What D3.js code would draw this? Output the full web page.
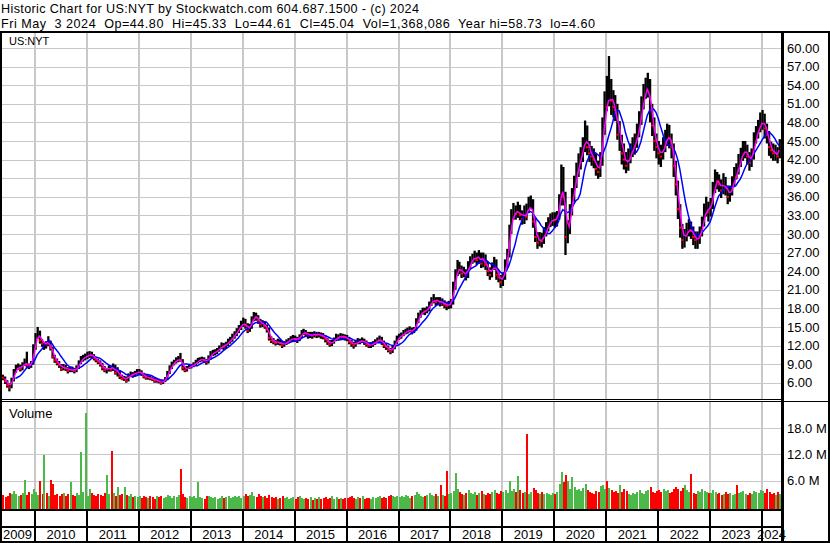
<!DOCTYPE html>
<html><head><meta charset="utf-8">
<script src="https://cdn.jsdelivr.net/npm/d3@7"></script>
<style>
body{margin:0;background:#fff;}
svg{display:block;font-family:Arial,"Liberation Sans",sans-serif;}
</style>
</head><body><svg id="c" width="830" height="543"></svg>
<script>
const headerLine1 = "Historic Chart for US:NYT by Stockwatch.com 604.687.1500 - (c) 2024";
const headerLine2 = "Fri May  3 2024  Op=44.80  Hi=45.33  Lo=44.61  Cl=45.04  Vol=1,368,086  Year hi=58.73  lo=4.60";
const symbolLabel = "US:NYT";
const volumeLabel = "Volume";
const years = [2009,2010,2011,2012,2013,2014,2015,2016,2017,2018,2019,2020,2021,2022,2023,2024];
const priceTicks = [6,9,12,15,18,21,24,27,30,33,36,39,42,45,48,51,54,57,60];
const volumeTicks = [6,12,18];

// semi-monthly bars (1st and 16th of each month), May 2009 .. May 2024
const close = [
 7.0,6.8,6.2,5.6,5.2,6.4,7.8,8.4,8.6,8.2,8.9,9.4,8.8,8.6,9.0,11.5,
 13.5,14.2,12.8,12.3,12.5,12.2,12.6,11.6,10.2,9.6,9.2,8.8,8.2,8.6,8.3,7.9,8.2,8.1,7.9,8.4,9.2,9.8,10.0,10.2,
 10.4,10.6,10.4,10.0,9.7,9.4,9.0,8.4,8.0,8.3,8.5,8.1,8.6,7.6,7.8,7.0,6.6,6.9,6.3,7.2,7.4,7.2,7.6,7.8,
 7.8,7.4,7.0,6.8,6.9,6.7,6.6,6.3,6.4,6.2,5.9,6.2,6.6,7.6,8.4,9.0,9.3,9.7,9.8,9.6,8.4,8.0,8.4,8.6,
 8.7,8.9,9.3,9.6,9.7,9.8,9.6,9.3,10.0,10.7,10.8,10.9,11.2,11.6,12.0,11.8,12.2,12.6,12.9,13.4,13.8,14.3,14.8,15.4,
 15.8,15.2,14.4,15.0,16.2,16.8,16.6,16.0,15.4,15.6,15.1,14.6,13.2,12.8,12.6,12.4,12.7,12.4,12.0,12.3,12.6,12.8,13.1,13.2,
 13.0,12.9,13.4,14.0,14.2,13.9,13.6,13.8,13.6,13.9,13.7,13.8,13.6,13.5,13.0,12.6,12.2,12.5,12.9,13.4,13.2,13.6,13.4,13.3,
 13.2,12.6,12.3,12.0,12.4,12.7,12.6,12.9,12.5,12.2,12.0,12.1,12.3,12.6,12.9,13.1,12.5,12.0,11.8,11.3,11.0,11.6,12.4,13.2,
 13.4,13.6,14.0,14.2,14.4,14.6,14.3,14.6,15.8,16.8,17.2,17.6,17.5,17.8,18.6,19.2,19.5,19.0,19.4,18.8,19.0,18.6,18.4,18.6,
 18.8,21.5,23.5,24.8,24.2,23.6,23.8,23.2,24.8,25.6,26.0,26.4,25.8,26.6,25.2,26.2,25.0,24.0,23.4,24.6,25.4,23.4,23.0,22.2,
 23.0,25.0,26.6,30.5,32.8,33.6,33.2,34.0,33.0,32.4,33.6,32.8,34.8,35.0,32.0,29.5,28.6,29.2,28.8,30.0,30.8,31.6,32.2,32.4,
 32.2,32.5,35.0,39.5,36.0,29.5,30.5,33.5,36.0,38.0,40.0,41.5,42.5,44.0,46.5,44.0,43.0,42.5,42.0,40.5,40.0,41.5,47.0,51.0,
 50.5,53.0,51.5,50.5,50.0,46.0,46.5,43.0,42.0,41.0,42.0,43.0,44.0,44.5,46.0,48.0,50.5,52.5,53.5,54.0,50.0,47.5,45.0,44.0,
 43.0,42.5,44.0,45.0,46.0,45.5,44.0,41.0,38.0,34.0,31.0,29.0,29.5,30.5,31.0,30.5,29.5,29.0,29.0,30.0,31.5,33.5,34.5,33.5,
 34.5,37.0,39.0,38.5,38.0,37.0,38.5,37.5,36.0,36.5,38.0,39.5,39.2,41.5,42.5,43.5,43.5,42.5,41.5,42.5,45.0,46.0,47.0,48.0,
 48.5,47.0,46.0,44.0,43.5,43.0,43.0,42.5,45.0
];
const high = [
 7.6,7.3,7.0,6.4,5.9,6.8,8.2,8.9,9.1,8.9,9.3,9.9,11.0,9.1,9.5,12.2,
 14.0,15.0,14.4,13.0,12.6,12.7,13.5,12.8,11.8,10.5,9.9,9.5,9.0,9.0,8.9,8.5,8.6,8.6,8.4,8.8,9.6,10.3,10.5,10.7,
 11.0,11.1,11.0,10.6,10.2,9.9,9.6,9.2,8.7,8.4,8.8,8.8,9.1,8.9,8.5,8.0,7.3,7.1,7.0,7.5,7.8,7.7,7.9,8.2,
 8.2,8.0,7.6,7.2,7.2,7.1,6.9,6.8,6.7,6.6,6.4,6.5,6.9,7.9,8.8,9.4,9.7,10.1,10.3,10.8,9.8,8.6,8.7,8.9,
 9.0,9.3,9.7,10.0,10.1,10.2,10.1,9.8,10.4,11.1,11.3,11.4,11.6,12.0,12.5,12.4,12.6,13.1,13.4,13.9,14.3,14.8,15.3,16.0,
 16.5,16.3,15.6,15.5,16.7,17.4,17.3,16.9,16.3,16.1,15.9,15.4,14.9,13.5,13.2,12.9,13.1,13.0,12.7,12.7,13.0,13.2,13.5,13.7,
 13.6,13.4,13.8,14.5,14.7,14.5,14.2,14.2,14.2,14.3,14.2,14.2,14.1,14.0,13.7,13.2,12.9,12.9,13.3,13.9,13.8,14.0,13.9,13.8,
 13.7,13.4,12.9,12.6,12.8,13.2,13.1,13.3,13.1,12.8,12.5,12.5,12.7,13.0,13.3,13.6,13.4,12.8,12.4,12.0,11.6,12.0,12.8,13.6,
 13.9,14.1,14.5,14.7,14.9,15.1,14.9,15.0,16.4,17.3,17.7,18.1,18.1,18.3,19.1,19.8,20.3,19.8,19.8,19.8,19.6,19.3,19.0,19.2,
 19.5,22.3,24.3,25.8,25.5,24.9,24.7,24.3,25.6,26.4,26.8,27.3,27.0,27.4,27.0,27.0,26.7,25.5,24.6,25.4,26.3,25.9,24.2,23.4,
 23.8,25.9,27.6,31.5,34.0,35.0,34.6,35.2,34.7,33.8,34.6,34.9,36.0,36.2,35.6,32.6,30.3,30.3,30.2,31.1,31.9,32.7,33.3,33.5,
 33.5,33.7,36.4,41.2,40.8,36.8,32.2,34.8,37.4,39.4,41.5,43.0,44.0,45.6,48.3,47.5,45.0,44.2,43.8,43.0,41.8,43.2,48.8,53.0,
 55.5,58.7,55.0,53.2,52.4,51.0,48.2,46.0,44.6,43.2,43.8,44.6,45.6,46.2,47.8,49.8,52.2,54.2,55.2,56.0,55.0,51.0,48.8,46.2,
 45.0,44.4,45.6,46.8,47.8,47.6,46.2,44.6,41.8,38.6,34.8,31.6,30.8,31.8,32.4,32.0,31.2,30.4,30.4,31.2,32.8,34.9,36.0,35.2,
 35.8,38.4,40.4,40.0,39.6,38.8,39.8,39.2,37.8,37.8,39.3,40.8,41.4,42.9,43.9,45.0,45.0,44.4,43.2,43.8,46.4,47.4,48.4,49.6,
 50.0,49.4,47.8,46.6,44.9,44.6,44.4,44.0,45.3
];
const low = [
 6.6,6.4,5.8,5.2,4.6,5.1,6.2,7.6,8.1,7.8,8.0,8.7,8.4,8.2,8.4,8.9,
 11.3,13.1,12.3,11.8,11.3,11.5,11.9,11.2,9.9,9.2,8.8,8.4,7.9,8.0,7.9,7.5,7.7,7.7,7.5,7.7,8.2,9.0,9.4,9.6,
 9.8,10.0,9.9,9.6,9.3,9.0,8.6,8.0,7.7,7.5,7.8,7.8,7.9,7.3,7.0,6.6,6.4,6.3,6.0,6.2,6.9,6.8,7.0,7.3,
 7.3,7.1,6.7,6.5,6.5,6.4,6.3,6.0,6.0,5.9,5.7,5.8,6.1,6.4,7.4,8.2,8.8,9.1,9.3,9.4,8.0,7.7,7.8,8.2,
 8.3,8.5,8.7,9.1,9.3,9.4,9.2,8.9,9.1,9.7,10.3,10.4,10.6,11.0,11.4,11.3,11.5,11.9,12.3,12.6,13.1,13.5,14.0,14.5,
 15.0,14.7,14.0,14.2,14.7,15.9,16.0,15.5,14.9,15.0,14.7,14.1,12.8,12.4,12.2,12.0,12.1,12.0,11.6,11.8,12.1,12.3,12.6,12.7,
 12.6,12.4,12.7,13.2,13.7,13.4,13.1,13.2,13.1,13.3,13.2,13.3,13.1,13.0,12.5,12.1,11.8,11.9,12.3,12.7,12.8,13.0,12.9,12.8,
 12.7,12.2,11.8,11.5,11.8,12.2,12.2,12.4,12.1,11.8,11.6,11.6,11.8,12.1,12.4,12.6,12.1,11.6,11.3,10.9,10.6,10.8,11.4,12.2,
 12.9,13.1,13.5,13.8,13.9,14.1,13.8,14.0,14.4,15.6,16.5,17.0,16.9,17.2,17.5,18.4,18.8,18.4,18.5,18.3,18.4,18.0,17.7,17.9,
 18.0,18.6,21.0,23.2,23.5,22.9,23.0,22.5,22.9,24.4,25.2,25.4,25.0,25.2,24.5,24.6,24.2,23.2,22.6,23.0,24.2,22.6,22.2,21.3,
 21.6,22.6,24.6,26.2,30.0,32.3,32.3,32.6,32.2,31.5,31.6,32.2,33.4,34.0,31.0,28.7,27.6,28.0,27.8,28.4,29.6,30.4,31.1,31.3,
 31.0,31.2,32.3,34.6,34.6,26.6,28.5,30.0,33.0,35.2,37.4,39.2,40.4,41.6,43.2,42.7,41.6,41.0,40.6,39.4,38.9,39.2,41.0,46.0,
 49.8,50.6,49.2,48.8,48.2,45.2,43.4,41.2,40.4,39.8,40.2,41.4,42.4,42.8,43.9,45.6,47.6,50.1,51.8,52.0,48.0,45.8,43.4,42.2,
 41.2,40.8,42.0,43.2,44.2,43.8,42.2,39.2,36.2,32.4,29.4,27.6,27.8,28.8,29.6,29.2,28.2,27.6,27.6,28.4,29.6,31.2,32.8,32.0,
 32.8,34.0,36.6,37.2,36.8,35.8,36.4,36.2,34.8,35.2,36.2,37.6,38.8,39.6,40.8,41.8,42.2,41.2,40.2,40.8,42.0,44.6,45.4,46.4,
 46.8,45.4,44.6,42.6,42.2,41.8,41.8,41.4,42.2
];
// volume in millions
const volume = [
 2.4,2.8,2.2,2.6,3.2,2.9,3.7,3.0,2.5,2.8,3.1,6.2,2.7,3.4,2.9,4.2,
 3.4,2.8,6.0,3.0,11.8,3.2,2.6,6.2,5.2,2.8,3.0,2.4,2.9,3.3,2.6,3.0,5.8,2.7,2.4,3.1,2.8,12.6,3.4,21.5,
 2.6,4.0,3.2,2.8,2.5,3.0,2.7,2.4,3.1,7.2,2.9,12.8,3.3,2.6,4.6,2.8,3.0,4.6,2.7,2.4,2.9,2.2,2.6,2.3,
 2.4,2.1,2.6,2.2,2.0,2.5,2.3,1.9,2.4,2.2,2.6,2.0,2.3,2.8,2.4,2.1,2.5,2.2,2.7,8.6,2.9,2.3,2.1,2.4,
 2.2,2.5,2.0,5.6,2.3,2.1,1.9,2.4,2.6,2.2,2.0,2.3,1.8,2.1,2.4,2.0,2.2,2.5,2.1,2.3,2.6,2.2,2.4,2.1,
 2.6,3.0,2.4,2.8,3.4,2.6,2.3,2.9,2.5,2.2,2.4,2.1,2.7,2.3,2.0,2.2,1.9,2.1,2.4,2.0,2.2,1.8,2.1,2.3,
 1.9,2.2,2.4,2.0,1.8,2.1,1.9,2.3,1.7,2.0,1.8,2.2,1.9,2.1,2.3,1.8,2.0,2.4,1.9,2.2,1.8,2.0,1.9,2.1,
 2.0,2.3,2.5,2.1,1.9,2.2,2.0,2.4,1.8,2.1,2.0,1.9,2.3,2.1,2.2,2.4,2.0,2.3,2.1,2.6,2.8,2.4,2.2,2.5,
 2.3,2.6,2.2,2.8,2.4,2.1,2.5,2.7,3.4,2.9,2.6,2.3,2.5,2.8,3.2,2.7,2.4,2.9,2.6,5.0,2.8,2.5,8.1,3.0,
 3.2,3.6,7.8,4.0,3.4,3.0,2.8,3.3,3.8,3.1,2.9,3.4,2.8,3.2,3.6,3.0,2.7,3.1,2.9,3.4,3.8,3.2,3.0,3.6,
 3.4,3.8,3.2,6.0,3.6,4.2,3.4,7.0,3.8,3.2,3.5,16.6,3.0,3.4,4.4,3.8,3.2,3.0,3.4,2.9,3.2,3.0,2.8,3.1,
 3.0,3.4,5.2,8.0,5.6,7.4,6.0,4.2,6.8,4.6,3.8,4.0,3.6,4.4,5.2,3.8,3.4,3.2,3.0,3.6,3.4,4.8,5.0,4.2,
 6.0,4.4,3.8,3.4,3.6,3.2,5.0,3.4,4.2,3.6,3.0,2.8,3.2,3.0,3.4,3.8,3.2,3.0,3.6,3.8,4.6,3.4,3.2,3.6,
 3.8,3.4,4.0,3.6,3.8,3.2,3.4,4.2,4.6,4.0,3.6,4.4,5.0,3.8,3.4,7.5,3.2,3.0,3.6,3.4,4.0,3.6,3.4,3.2,
 3.2,3.8,3.4,3.0,3.2,2.8,3.0,3.4,2.9,3.1,2.8,3.0,5.0,3.2,3.4,3.6,3.0,2.8,3.2,3.0,3.6,3.4,3.2,3.8,
 3.6,3.2,4.0,3.4,3.0,3.2,2.8,3.4,3.0
];

const dates = close.map((_, i) => new Date(2009, 4 + Math.floor(i / 2), i % 2 ? 16 : 1));
const bars = close.map((c, i) => ({
  date: dates[i], close: c, high: high[i], low: low[i], vol: volume[i],
  down: i > 0 ? c < close[i - 1] : false
}));
function sma(n) {
  return close.map((_, i) => i < n - 1 ? null : d3.mean(close.slice(i - n + 1, i + 1)));
}
const maFast = sma(3), maSlow = sma(8);

const svg = d3.select("#c");
const W = 830, H = 543;
const plotL = 2, plotR = 781;
const priceTop = 33, priceBot = 399;
const volTop = 402, volBot = 509;

const x = d3.scaleTime().domain([new Date(2010, 0, 1), new Date(2024, 0, 1)]).range([35, 762]);
const y = d3.scaleLinear().domain([6, 60]).range([382.7, 48]);
const yv = d3.scaleLinear().domain([0, 18]).range([507, 428]);

const defs = svg.append("defs");
defs.append("clipPath").attr("id", "cp").append("rect").attr("x", plotL).attr("y", priceTop).attr("width", plotR - plotL).attr("height", priceBot - priceTop);
defs.append("clipPath").attr("id", "cv").append("rect").attr("x", plotL).attr("y", volTop).attr("width", plotR - plotL).attr("height", volBot - volTop);

svg.append("rect").attr("width", W).attr("height", H).attr("fill", "#fff");

// header
svg.append("text").attr("x", 1).attr("y", 13).attr("font-size", 12.6).attr("fill", "#000")
  .attr("textLength", 418).attr("lengthAdjust", "spacing").style("white-space", "pre").text(headerLine1);
svg.append("text").attr("x", 1).attr("y", 27.5).attr("font-size", 12.6).attr("fill", "#000")
  .attr("textLength", 594).attr("lengthAdjust", "spacing").style("white-space", "pre").text(headerLine2);

const yearTicks = years.slice(1).map(yr => new Date(yr, 0, 1));
const grid = svg.append("g").attr("stroke", "#c8c8c8").attr("shape-rendering", "crispEdges");
grid.selectAll(".hp").data(priceTicks).join("line")
  .attr("x1", plotL).attr("x2", plotR).attr("y1", d => Math.round(y(d)) + 0.5).attr("y2", d => Math.round(y(d)) + 0.5).attr("stroke-width", 1);
grid.selectAll(".hv").data(volumeTicks).join("line")
  .attr("x1", plotL).attr("x2", plotR).attr("y1", d => Math.round(yv(d)) + 0.5).attr("y2", d => Math.round(yv(d)) + 0.5).attr("stroke-width", 1);
yearTicks.forEach(d => {
  const xx = Math.round(x(d));
  grid.append("line").attr("x1", xx).attr("x2", xx).attr("y1", priceTop).attr("y2", priceBot).attr("stroke-width", 2);
  grid.append("line").attr("x1", xx).attr("x2", xx).attr("y1", volTop).attr("y2", volBot).attr("stroke-width", 2);
});

// candles
const bw = 2.3;
const pg = svg.append("g").attr("clip-path", "url(#cp)");
pg.selectAll(".bar").data(bars).join("rect")
  .attr("x", d => x(d.date) - 0.6).attr("width", bw)
  .attr("y", d => y(d.high)).attr("height", d => Math.max(1, y(d.low) - y(d.high)))
  .attr("fill", "#000");
pg.selectAll(".dn").data(bars.filter(d => d.down)).join("rect")
  .attr("x", d => x(d.date) - 0.6).attr("width", bw)
  .attr("y", d => y(d.close) - 1).attr("height", 2)
  .attr("fill", "#ff0000");
const lineGen = arr => d3.line().defined((d, i) => arr[i] != null).x((d, i) => x(dates[i])).y((d, i) => y(arr[i]));
pg.append("path").datum(bars).attr("fill", "none").attr("stroke", "#0000ff").attr("stroke-width", 1.5).attr("d", lineGen(maSlow));
pg.append("path").datum(bars).attr("fill", "none").attr("stroke", "#ff00ff").attr("stroke-width", 1.5).attr("d", lineGen(maFast));

// volume
const vg = svg.append("g").attr("clip-path", "url(#cv)").attr("shape-rendering", "crispEdges");
vg.selectAll(".vb").data(bars).join("rect")
  .attr("x", d => Math.round(x(d.date))).attr("width", 2)
  .attr("y", d => yv(d.vol)).attr("height", d => volBot - yv(d.vol))
  .attr("fill", d => d.down ? "#ff0000" : "#4cb848");

// labels
svg.append("text").attr("x", 9).attr("y", 45).attr("font-size", 11).text(symbolLabel);
svg.append("text").attr("x", 9).attr("y", 418).attr("font-size", 13).text(volumeLabel);

// right axes
const pa = svg.append("g").attr("transform", "translate(782,0)")
  .call(d3.axisRight(y).tickValues(priceTicks).tickFormat(d3.format(".2f")).tickSize(0).tickPadding(5));
pa.select(".domain").remove();
pa.selectAll("text").attr("font-size", 13).attr("font-family", "Arial, 'Liberation Sans', sans-serif").attr("fill", "#000");
const va = svg.append("g").attr("transform", "translate(782,0)")
  .call(d3.axisRight(yv).tickValues(volumeTicks).tickFormat(d => d.toFixed(1) + " M").tickSize(0).tickPadding(5));
va.select(".domain").remove();
va.selectAll("text").attr("font-size", 13).attr("font-family", "Arial, 'Liberation Sans', sans-serif").attr("fill", "#000");

// frame lines
const fr = svg.append("g").attr("stroke", "#000").attr("shape-rendering", "crispEdges");
fr.append("line").attr("x1", 0).attr("x2", W).attr("y1", 31.5).attr("y2", 31.5).attr("stroke-width", 2);
fr.append("line").attr("x1", 1).attr("x2", 1).attr("y1", 31).attr("y2", H).attr("stroke-width", 2);
fr.append("line").attr("x1", 829).attr("x2", 829).attr("y1", 31).attr("y2", H).attr("stroke-width", 2);
fr.append("line").attr("x1", 782).attr("x2", 782).attr("y1", 31).attr("y2", 542).attr("stroke-width", 3);
fr.append("line").attr("x1", 0).attr("x2", W).attr("y1", 541.5).attr("y2", 541.5).attr("stroke-width", 2);
fr.append("line").attr("x1", 0).attr("x2", 782).attr("y1", 399.5).attr("y2", 399.5).attr("stroke-width", 1);
fr.append("line").attr("x1", 0).attr("x2", W).attr("y1", 401.5).attr("y2", 401.5).attr("stroke-width", 1);
fr.append("line").attr("x1", 0).attr("x2", 782).attr("y1", 509.5).attr("y2", 509.5).attr("stroke-width", 2);
fr.append("line").attr("x1", 0).attr("x2", 782).attr("y1", 526.5).attr("y2", 526.5).attr("stroke-width", 2);
yearTicks.forEach(d => {
  const xx = Math.round(x(d));
  fr.append("line").attr("x1", xx).attr("x2", xx).attr("y1", 509).attr("y2", 541).attr("stroke-width", 2);
});

years.forEach(yr => {
  const a = Math.max(0, x(new Date(yr, 0, 1)));
  const b = Math.min(781, x(new Date(yr + 1, 0, 1)));
  svg.append("text").attr("x", (a + b) / 2).attr("y", 539).attr("text-anchor", "middle").attr("font-size", 13).text(yr);
});
</script>
</body></html>
